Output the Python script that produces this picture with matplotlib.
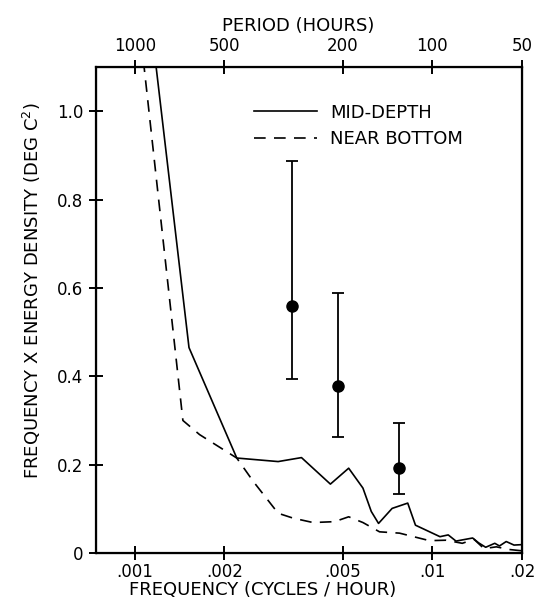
import numpy as np
import matplotlib
matplotlib.use("Agg")
import matplotlib.pyplot as plt
from matplotlib.lines import Line2D

# mid-depth spectrum (frequency in cycles/hour, freq x energy density)
mid_freq = [0.00116, 0.00152, 0.0022, 0.00303, 0.00363, 0.00454, 0.00523,
            0.00584, 0.00623, 0.00659, 0.00732, 0.00826, 0.00877, 0.0106,
            0.0113, 0.0120, 0.01365, 0.0143, 0.0151, 0.0162, 0.0168, 0.0177,
            0.0188, 0.020]
mid_val = [1.14, 0.465, 0.215, 0.207, 0.216, 0.156, 0.192,
           0.147, 0.094, 0.067, 0.101, 0.113, 0.063, 0.037,
           0.041, 0.027, 0.034, 0.023, 0.013, 0.022, 0.016, 0.026,
           0.018, 0.019]

# near-bottom spectrum
bot_freq = [0.00105, 0.00145, 0.00165, 0.0022, 0.0025, 0.00303, 0.0034,
            0.00397, 0.00469, 0.00523, 0.00584, 0.00664, 0.00775, 0.00977,
            0.0111, 0.0126, 0.0138, 0.0149, 0.0164, 0.0181, 0.020]
bot_val = [1.16, 0.30, 0.268, 0.215, 0.162, 0.09, 0.079,
           0.069, 0.071, 0.082, 0.069, 0.048, 0.045, 0.028,
           0.029, 0.022, 0.031, 0.010, 0.014, 0.008, 0.005]

# error bar examples
err_freq = [0.00337, 0.0048, 0.0077]
err_val = [0.558, 0.379, 0.192]
err_lo = [0.394, 0.262, 0.134]
err_hi = [0.888, 0.589, 0.294]

freq_ticks = [0.001, 0.002, 0.005, 0.01, 0.02]
freq_labels = ['.001', '.002', '.005', '.01', '.02']
period_ticks = [1000, 500, 200, 100, 50]
y_ticks = [0, 0.2, 0.4, 0.6, 0.8, 1.0]
y_labels = ['0', '0.2', '0.4', '0.6', '0.8', '1.0']

plt.rcParams['font.family'] = ['DejaVu Sans']
fig = plt.figure(figsize=(5.35, 6.04), dpi=100)
ax = fig.add_axes([0.1794, 0.0844, 0.7963, 0.8046])

ax.set_xscale('log')
ax.set_xlim(0.00074, 0.02)
ax.set_ylim(0, 1.10)

ax.plot(mid_freq, mid_val, color='black', lw=1.2)
ax.plot(bot_freq, bot_val, color='black', lw=1.2, dashes=(7, 5))

lo = np.array(err_val) - np.array(err_lo)
hi = np.array(err_hi) - np.array(err_val)
ax.errorbar(err_freq, err_val, yerr=[lo, hi], fmt='o', color='black', ms=8,
            elinewidth=1.3, capsize=4, capthick=1.3)

for s in ax.spines.values():
    s.set_linewidth(1.6)

ax.xaxis.set_minor_locator(matplotlib.ticker.NullLocator())
ax.set_xticks(freq_ticks)
ax.set_xticklabels(freq_labels)
ax.set_yticks(y_ticks)
ax.set_yticklabels(y_labels)
ax.tick_params(direction='inout', length=10, width=1.4, labelsize=12)
ax.tick_params(axis='x', pad=2)
ax.tick_params(axis='y', pad=4)

ax.set_xlabel('FREQUENCY (CYCLES / HOUR)', fontsize=13)
ax.xaxis.set_label_coords(0.39, -0.058)
ax.set_ylabel('FREQUENCY X ENERGY DENSITY (DEG C$^2$)', fontsize=13)
ax.yaxis.set_label_coords(-0.125, 0.54)

# period axis on top
top = ax.twiny()
top.set_xscale('log')
top.set_xlim(ax.get_xlim())
top.xaxis.set_minor_locator(matplotlib.ticker.NullLocator())
top.set_xticks([1.0 / p for p in period_ticks])
top.set_xticklabels([str(p) for p in period_ticks])
top.tick_params(direction='inout', length=10, width=1.4, labelsize=12, pad=4)
top.set_xlabel('PERIOD (HOURS)', fontsize=13)
top.xaxis.set_label_coords(0.474, 1.075)

# legend
handles = [Line2D([], [], color='black', lw=1.2),
           Line2D([], [], color='black', lw=1.2, dashes=(7, 5))]
leg = ax.legend(handles, ['MID-DEPTH', 'NEAR BOTTOM'], loc='upper left',
                bbox_to_anchor=(0.333, 0.958), frameon=False, fontsize=13,
                handlelength=3.5, handletextpad=0.7, labelspacing=0.45)

fig.savefig('out.png', dpi=100)
